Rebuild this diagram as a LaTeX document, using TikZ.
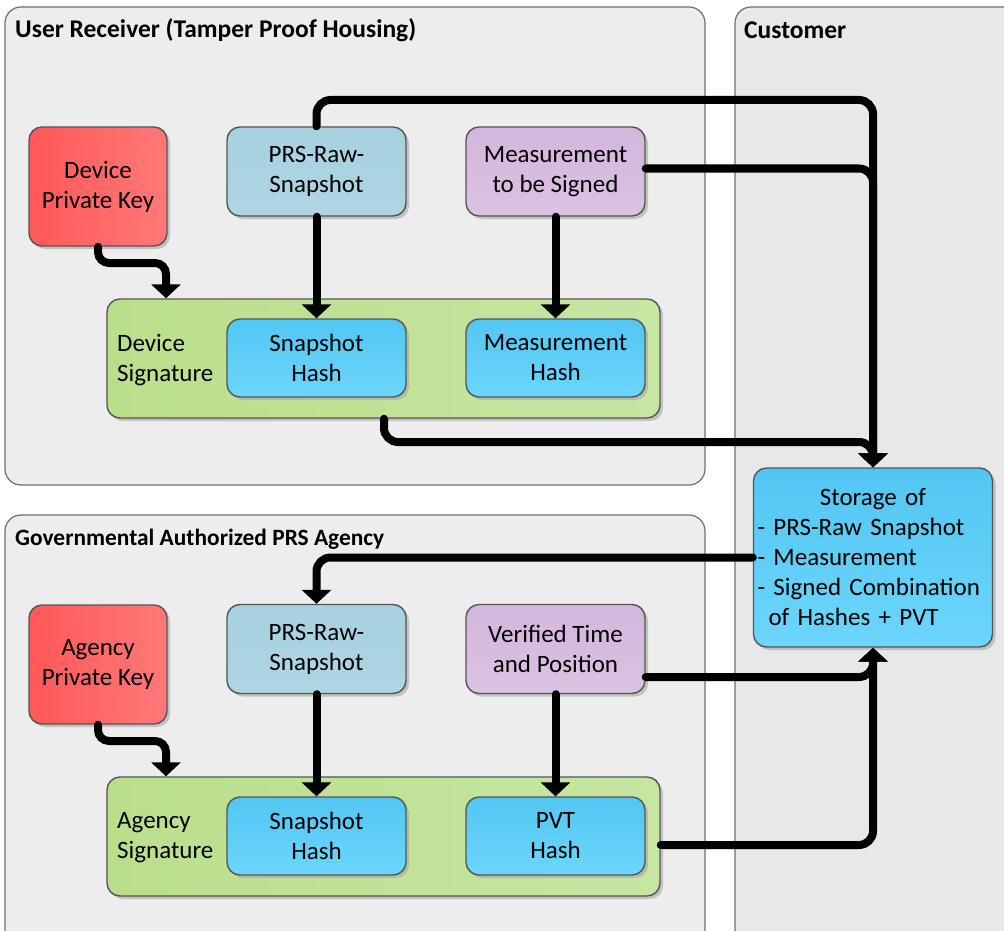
\documentclass[tikz,border=0pt]{standalone}
\usepackage{fontspec}
\setmainfont{Carlito}
\usetikzlibrary{arrows.meta,shadows,calc}
\definecolor{contfill}{HTML}{EDEDED}
\definecolor{custfill}{HTML}{E8E8EA}
\definecolor{contline}{HTML}{707070}
\definecolor{nodeline}{HTML}{555555}
\definecolor{redA}{HTML}{FF5858}
\definecolor{redB}{HTML}{FF7878}
\definecolor{lblueA}{HTML}{A6D1DF}
\definecolor{lblueB}{HTML}{AED6E2}
\definecolor{lilacA}{HTML}{D4B6DC}
\definecolor{lilacB}{HTML}{DBC2E2}
\definecolor{greenA}{HTML}{BADF8B}
\definecolor{greenB}{HTML}{C6E6A2}
\definecolor{blueA}{HTML}{52C6F2}
\definecolor{blueB}{HTML}{6CD6FC}
\tikzset{
  x=1pt, y=-1pt,
  container/.style={draw=contline, line width=1.2pt, rounded corners=16pt},
  box/.style={draw=nodeline, line width=1.4pt, rounded corners=13pt, align=center,
    font=\fontsize{25}{30}\selectfont, inner sep=0pt,
    drop shadow={shadow xshift=3pt, shadow yshift=-3pt, fill=black!35, opacity=0.6}},
  keybox/.style={box, left color=redA, right color=redB, minimum width=138pt, minimum height=119pt},
  rawbox/.style={box, top color=lblueA, bottom color=lblueB, minimum width=179pt, minimum height=89pt},
  measbox/.style={box, top color=lilacA, bottom color=lilacB, minimum width=179pt, minimum height=89pt},
  sigbox/.style={box, left color=greenA, right color=greenB, minimum width=553pt, minimum height=119pt},
  hashbox/.style={box, top color=blueA, bottom color=blueB, minimum width=179pt, minimum height=78pt},
  storebox/.style={box, top color=blueA, bottom color=blueB, minimum width=239pt, minimum height=179pt,
    text width=231pt, align=left, inner xsep=4pt},
  lbl/.style={font=\fontsize{25}{30}\selectfont, align=left, inner sep=0pt, anchor=west},
  ttl/.style={font=\bfseries\fontsize{25.5}{30}\selectfont, inner sep=0pt, anchor=west},
  conn/.style={line width=8pt, line cap=round, rounded corners=14pt,
    -{Triangle[width=29pt,length=14pt]}},
}
\begin{document}
\begin{tikzpicture}
\useasboundingbox (0,0) rectangle (1004,931);
\fill[white] (0,0) rectangle (1004,931);
\begin{scope}
\clip (0,0) rectangle (1004,931);
\draw[container, fill=contfill] (5,7) rectangle (705,485);
\draw[container, fill=contfill] (5,515) rectangle (705,945);
\draw[container, fill=custfill] (735,7) rectangle (1020,945);
\end{scope}
\node[ttl] (t1) at (15,30) {User Receiver (Tamper Proof Housing)};
\node[ttl, font=\bfseries\fontsize{23.4}{28}\selectfont] (t2) at (15,539) {Governmental Authorized PRS Agency};
\node[ttl] (t3) at (744,30) {Customer};

% user receiver
\node[keybox] (dkey) at (98,186.5) {Device\\Private Key};
\node[rawbox] (raw1) at (316.5,171.5) {PRS-Raw-\\Snapshot};
\node[measbox] (meas) at (555.5,171.5) {Measurement\\to be Signed};
\node[sigbox] (dsig) at (383.5,358.5) {};
\node[lbl] (dsigl) at (117,360) {Device\\Signature};
\node[hashbox] (sh1) at (316.5,358) {Snapshot\\Hash};
\node[hashbox] (mh) at (555.5,358) {Measurement\\Hash};

% agency
\node[keybox] (akey) at (98,664.5) {Agency\\Private Key};
\node[rawbox] (raw2) at (316.5,649) {PRS-Raw-\\Snapshot};
\node[measbox] (vtp) at (555.5,649) {Verified Time\\and Position};
\node[sigbox] (asig) at (383.5,836.5) {};
\node[lbl] (asigl) at (117,838) {Agency\\Signature};
\node[hashbox] (sh2) at (316.5,836) {Snapshot\\Hash};
\node[hashbox] (ph) at (555.5,836) {PVT\\Hash};

% customer
\node[storebox] (store) at (873,557.5) {\hfill Storage of\hfill\null\\- PRS-Raw Snapshot\\- Measurement\\- Signed Combination\\\hspace*{11pt}of Hashes + PVT};

% connectors
\draw[conn] (raw1.north) -- (316.5,100) -- (873,100) -- (store.north);
\draw[conn] ([yshift=3pt]meas.east) -- (873,168.5) -- (store.north);
\draw[conn] (dsig.south -| 384,0) -- (384,442) -- (873,442) -- (store.north);
\draw[conn, rounded corners=11pt] (dkey.south) -- (98,263) -- (166,263) -- (dsig.north -| 166,0);
\draw[conn] (raw1.south) -- (sh1.north);
\draw[conn] (meas.south) -- (mh.north);

\draw[conn] (store.west) -- (316.5,557.5) -- (raw2.north);
\draw[conn] ([yshift=-28pt]vtp.east) -- (873,677) -- (store.south);
\draw[conn] ([yshift=-8.5pt]asig.east) -- (873,845) -- (store.south);
\draw[conn, rounded corners=11pt] (akey.south) -- (98,741) -- (166,741) -- (asig.north -| 166,0);
\draw[conn] (raw2.south) -- (sh2.north);
\draw[conn] (vtp.south) -- (ph.north);
\end{tikzpicture}
\end{document}
